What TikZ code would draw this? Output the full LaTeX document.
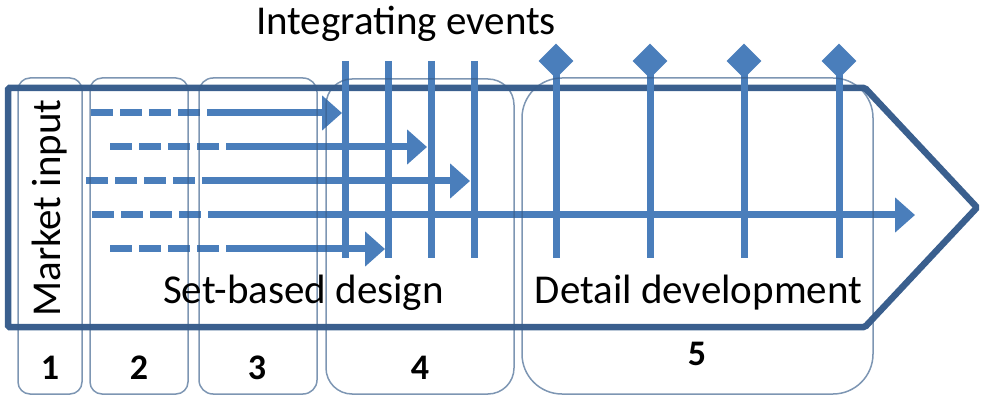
\documentclass[tikz,border=0pt]{standalone}
\usepackage{fontspec}
\setmainfont{Carlito}
\usetikzlibrary{arrows.meta,shapes.geometric}
\definecolor{flow}{HTML}{4A7EBB}
\definecolor{frameblue}{HTML}{3A5F8E}
\definecolor{phaseblue}{HTML}{385D8A}
\begin{document}
\begin{tikzpicture}[x=1pt,y=-1pt,
  bigtext/.style={font=\fontsize{41}{49}\selectfont, inner sep=0pt, anchor=base},
  numtext/.style={font=\fontsize{36}{43}\selectfont\bfseries, inner sep=0pt, anchor=base},
  flowline/.style={draw=flow, line width=7pt},
  dashpart/.style={flowline, dash pattern=on 22pt off 7pt},
  solidpart/.style={flowline, -{Triangle[length=20pt,width=34pt]}},
  milestone/.style={diamond, fill=flow, inner sep=0pt, minimum width=35pt, minimum height=35pt},
  phasebox/.style={draw=phaseblue, draw opacity=0.65, line width=1.5pt, rectangle, inner sep=0pt}
]
\useasboundingbox (0,0) rectangle (982,395);

% process arrow outline
\draw[frameblue, line width=6.5pt, line join=miter, rounded corners=1.5pt]
  (8,88) -- (865,88) -- (977,207.5) -- (865,327) -- (8,327) -- cycle;

% integrating events (set-based phase)
\foreach \x/\n in {345/1,388/2,431/3,474/4}{
  \coordinate (ie\n) at (\x,61);
  \coordinate (ieb\n) at (\x,258);
  \draw[flowline] (ie\n) -- (ieb\n);
}

% milestones (detail phase)
\foreach \x/\n in {556/1,650/2,744/3,839/4}{
  \node[milestone] (ms\n) at (\x,61) {};
  \coordinate (msb\n) at (\x,258);
  \draw[flowline] (ms\n.center) -- (msb\n);
}

% parallel design alternatives: dashed start, solid run, arrow tip
\foreach \y/\s/\t/\n in {113/91/342/1,147/110/427/2,181/86/470/3,215/92/915/4,249/110/385/5}{
  \coordinate (s\n) at (\s,\y);
  \coordinate (t\n) at (\t,\y);
  \draw[dashpart] (s\n) -- ++(116,0);
  \draw[solidpart] (s\n) ++(116,0) -- (t\n);
}

% phase boxes
\node[phasebox, rounded corners=12pt, minimum width=64pt, minimum height=316pt] (p1) at (50,236) {};
\node[phasebox, rounded corners=12pt, minimum width=98pt, minimum height=316pt] (p2) at (139,236) {};
\node[phasebox, rounded corners=14pt, minimum width=118pt, minimum height=316pt] (p3) at (258,236) {};
\node[phasebox, rounded corners=26pt, minimum width=188pt, minimum height=315pt] (p4) at (420,236.5) {};
\node[phasebox, rounded corners=40pt, minimum width=351pt, minimum height=316pt] (p5) at (697.5,236) {};

% phase numbers
\node[numtext] (n1) at (50,379) {1};
\node[numtext] (n2) at (139,379) {2};
\node[numtext] (n3) at (257,379) {3};
\node[numtext] (n4) at (420,379) {4};
\node[numtext] (n5) at (697,365) {5};

% labels
\node[bigtext] (ievents) at (406,35) {Integrating events};
\node[bigtext] (setbased) at (303.5,303) {Set-based design};
\node[bigtext] (detail) at (698.5,303) {Detail development};
\node[bigtext, rotate=90] (market) at (60,208) {Market input};
\end{tikzpicture}
\end{document}
